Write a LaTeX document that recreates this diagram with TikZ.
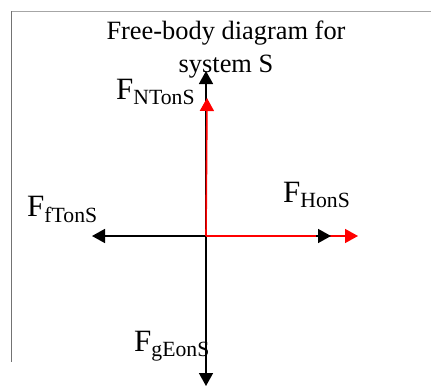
\documentclass[tikz,border=0pt]{standalone}
\usepackage{fontspec}
\setmainfont{Liberation Serif}
\usetikzlibrary{arrows.meta}

\begin{document}
\begin{tikzpicture}[x=1pt,y=-1pt,>={Triangle[width=14pt,length=13pt]},force/.style={->,line width=1.6pt},flabel/.style={inner sep=0pt,anchor=base west,font=\fontsize{31}{32}\selectfont},title/.style={align=center,font=\fontsize{26.4}{33}\selectfont}]
  \useasboundingbox (0,0) rectangle (431,386);
  \draw[gray!70,line width=1pt] (431,11) -- (11,11);
  \draw[gray!90!black,line width=1pt] (11,11) -- (11,362);
  \node[title] (caption) at (226,50) {Free-body diagram for\\system S};
  \coordinate (o) at (206,236);
  \coordinate (up) at (206,71);
  \coordinate (down) at (206,386);
  \coordinate (left) at (92,236);
  \coordinate (right) at (331,236);
  \coordinate (rightstub) at (316,236);
  \coordinate (upred) at (207,98);
  \coordinate (rightred) at (358,236);
  \draw[force] (o) -- (up);
  \draw[force] (o) -- (down);
  \draw[force] (o) -- (left);
  \draw[force,red] (o) -- (upred);
  \draw[force,red] (o) -- (rightred);
  \draw[force] (rightstub) -- (right);
  \node[flabel] (fn) at (116,99) {F\textsubscript{NTonS}};
  \node[flabel] (ff) at (27,216) {F\textsubscript{fTonS}};
  \node[flabel] (fh) at (283,202) {F\textsubscript{HonS}};
  \node[flabel] (fg) at (134,351) {F\textsubscript{gEonS}};
\end{tikzpicture}
\end{document}
